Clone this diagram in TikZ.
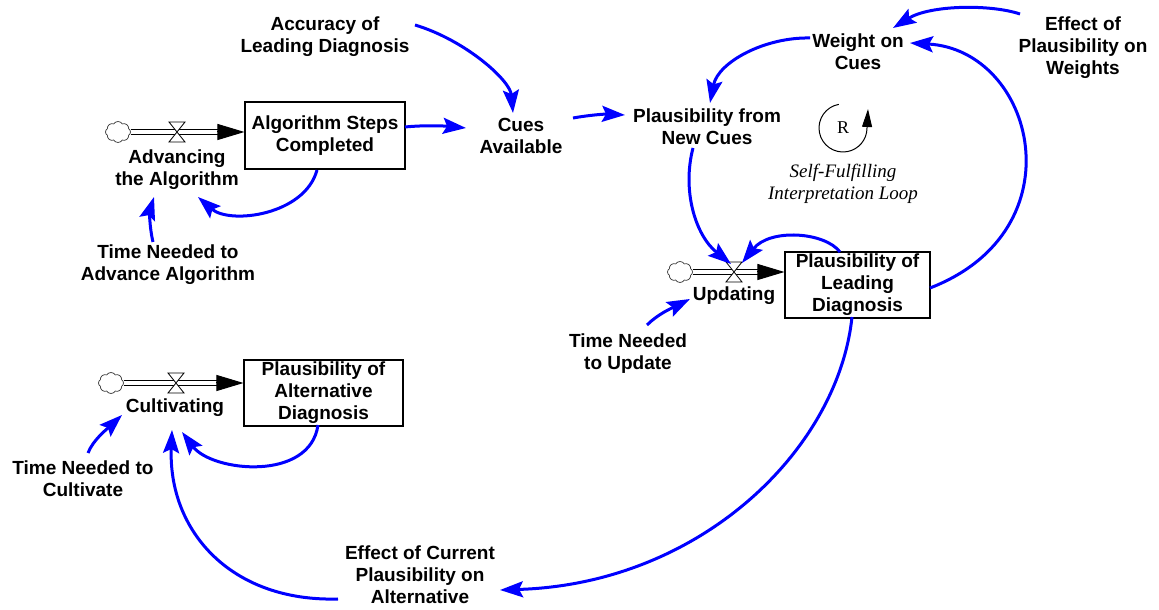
\documentclass[tikz,border=0pt]{standalone}
\usepackage{fontspec}
\setmainfont{Liberation Sans}
\newfontfamily\loopfont{Liberation Serif}
\usetikzlibrary{arrows.meta,shapes.symbols,calc}
\definecolor{linkblue}{RGB}{0,0,255}
\tikzset{
  var/.style={font=\bfseries\fontsize{19}{22}\selectfont, align=center, inner sep=1pt},
  stock/.style={var, draw, line width=1.1pt, inner sep=0pt},
  link/.style={draw=linkblue, line width=3pt, -{Stealth[length=23pt,width=16pt,inset=4pt]}},
  pipeline/.style={draw, line width=1pt},
  pipetip/.style={draw, line width=1pt, -{Triangle[length=27pt,width=16pt]}},
  valve/.style={draw, fill=white, line width=0.8pt},
  source/.style={cloud, cloud puffs=8, cloud puff arc=115, aspect=1.2, draw=black!80,
    line width=0.7pt, minimum width=25pt, minimum height=21pt, inner sep=0pt, fill=white},
}
% bow-tie valve drawn on a flow pipe
\newcommand\flowvalve[1]{%
  \draw[valve] ($(#1)+(-8,10)$) -- ($(#1)+(8,10)$) -- ($(#1)+(-8,-10)$) -- ($(#1)+(8,-10)$) -- cycle;}
% double flow pipe from a source cloud into a stock, ending in a solid head
\newcommand\flowpipe[2]{%
  \path[pipeline] ($(#1.east)+(0,2.5)$) -- ($(#2.west |- #1)+(-24,2.5)$);
  \path[pipeline] ($(#1.east)+(0,-2.5)$) -- ($(#2.west |- #1)+(-24,-2.5)$);
  \path[pipetip] ($(#2.west |- #1)+(-27,0)$) -- (#2.west |- #1);}

\begin{document}
\begin{tikzpicture}[x=1pt,y=1pt]
\useasboundingbox (0,0) rectangle (1159,610);

% stocks
\node[stock, minimum width=160pt, minimum height=67pt] (asc) at (325,474.5) {Algorithm Steps\\Completed};
\node[stock, minimum width=145pt, minimum height=66pt] (pld) at (857.5,325) {Plausibility of\\Leading\\Diagnosis};
\node[stock, minimum width=159pt, minimum height=66pt] (pad) at (323.5,217) {Plausibility of\\Alternative\\Diagnosis};

% auxiliaries and rate labels
\node[var] (acc)  at (325,573) {Accuracy of\\Leading Diagnosis};
\node[var] (adv)  at (177,440) {Advancing\\the Algorithm};
\node[var] (tna)  at (168,345) {Time Needed to\\Advance Algorithm};
\node[var] (cues) at (521,474) {Cues\\Available};
\node[var] (pnc)  at (707,483) {Plausibility from\\New Cues};
\node[var] (woc)  at (858,558) {Weight on\\Cues};
\node[var] (eop)  at (1083,562) {Effect of\\Plausibility on\\Weights};
\node[var] (upd)  at (734,314) {Updating};
\node[var] (tnu)  at (628,256) {Time Needed\\to Update};
\node[var] (cul)  at (175,202) {Cultivating};
\node[var] (tnc)  at (83,131.5) {Time Needed to\\Cultivate};
\node[var] (eoc)  at (420,35) {Effect of Current\\Plausibility on\\Alternative};

% sources, pipes and valves
\node[source] (c1) at (118,478) {};
\node[source] (c2) at (680,338) {};
\node[source] (c3) at (111,227) {};
\coordinate (v1) at (177,478);
\coordinate (v2) at (734,338);
\coordinate (v3) at (176,227);
\flowpipe{c1}{asc}
\flowpipe{c2}{pld}
\flowpipe{c3}{pad}
\flowvalve{v1}
\flowvalve{v2}
\flowvalve{v3}

% causal links
\draw[link] ([shift={(90,12)}]acc.center) .. controls (465,570) and (510,530) .. ([shift={(-8,23)}]cues.center);
\draw[link] ([shift={(80,8.5)}]asc.center) .. controls (425,485) and (445,484) .. ([shift={(-55,8)}]cues.center);
\draw[link] ([shift={(52,18)}]cues.center) .. controls (590,495) and (605,496) .. ([shift={(-82,12)}]pnc.center);
\draw[link] ([shift={(-63,34)}]eop.center) .. controls (990,606) and (930,605) .. ([shift={(35,24)}]woc.center);
\draw[link] ([shift={(-48,14)}]woc.center) .. controls (765,573) and (718,548) .. ([shift={(3,24)}]pnc.center);
\draw[link] ([shift={(72.5,-3)}]pld.center) .. controls (1080,380) and (1035,560) .. ([shift={(52,9)}]woc.center);
\draw[link] ([shift={(-14,-21)}]pnc.center) .. controls (682,420) and (695,375) .. ([shift={(-3,8)}]v2);
\draw[link] ([shift={(-17.5,33)}]pld.center) .. controls (825,378) and (770,382) .. ([shift={(8,9)}]v2);
\draw[link] ([shift={(19,29)}]tnu.center) .. controls (658,296) and (672,302) .. ([shift={(-44,-3)}]upd.center);
\draw[link] ([shift={(-5.5,-32)}]pld.center) .. controls (838,160) and (700,26) .. ([shift={(80,-15)}]eoc.center);
\draw[link] ([shift={(-82,-24)}]eoc.center) .. controls (230,8) and (168,80) .. ([shift={(-3,-22)}]cul.center);
\draw[link] ([shift={(-5.5,-32)}]pad.center) .. controls (310,128) and (212,138) .. ([shift={(7,-24)}]cul.center);
\draw[link] ([shift={(5,25.5)}]tnc.center) .. controls (93,170) and (107,181) .. ([shift={(-53,-7)}]cul.center);
\draw[link] ([shift={(-15,23)}]tna.center) .. controls (149,385) and (150,400) .. ([shift={(-23,-27)}]adv.center);
\draw[link] ([shift={(-8,-34.5)}]asc.center) .. controls (305,395) and (230,385) .. ([shift={(21,-27)}]adv.center);

% reinforcing loop marker
\node[font=\loopfont\fontsize{18}{22}\selectfont, inner sep=0pt] (loopR) at (843,482) {R};
\draw[line width=1pt, -{Triangle[length=18pt,width=10pt]}]
  ([shift={(100:24)}]loopR.center) arc[start angle=100, end angle=360, radius=24] -- ++(1,19);
\node[font=\loopfont\itshape\fontsize{19}{22}\selectfont, align=center] (looplbl) at (843,426)
  {Self-Fulfilling\\Interpretation Loop};
\end{tikzpicture}
\end{document}
